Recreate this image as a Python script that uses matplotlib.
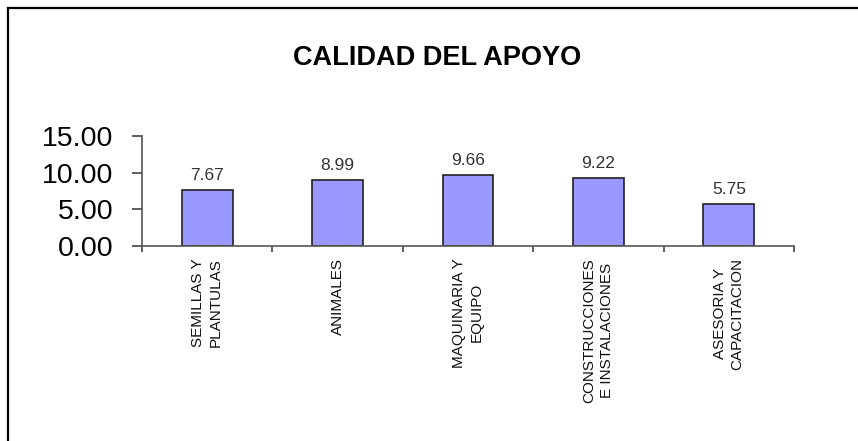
import matplotlib
matplotlib.use("Agg")
import matplotlib.pyplot as plt
from matplotlib.lines import Line2D

plt.rcParams['font.family'] = ['Liberation Sans', 'DejaVu Sans']

categorias = ["SEMILLAS Y\nPLANTULAS", "ANIMALES", "MAQUINARIA Y\nEQUIPO",
              "CONSTRUCCIONES\nE INSTALACIONES", "ASESORIA Y\nCAPACITACION"]
valores = [7.67, 8.99, 9.66, 9.22, 5.75]
yticks = [0, 5, 10, 15]

fig = plt.figure(figsize=(8.58, 4.41), dpi=100)
ax = fig.add_axes([142 / 858, 1 - 246 / 441, (794 - 142) / 858, (246 - 136) / 441])

x = list(range(len(valores)))
bars = ax.bar(x, valores, width=0.39, color='#9999ff', edgecolor='#222222', linewidth=1.2)

for xi, v in zip(x, valores):
    ax.annotate("%.2f" % v, (xi, v), xytext=(0, 5), textcoords='offset points',
                ha='center', va='bottom', fontsize=12.5, color='#333333')

ax.set_xlim(-0.5, len(valores) - 0.5)
ax.set_ylim(0, 15)
ax.set_yticks(yticks)
ax.set_yticklabels(["%.2f" % t for t in yticks], fontsize=20.5)

# ticks mayores en los limites de categoria, etiquetas en los centros
ax.set_xticks([i - 0.5 for i in range(len(valores) + 1)])
ax.set_xticklabels([])
ax.set_xticks(x, minor=True)
ax.set_xticklabels(categorias, minor=True, rotation=90, fontsize=11,
                   va='top', ha='center', multialignment='center',
                   linespacing=1.35, color='#111111')
ax.tick_params(axis='x', which='minor', length=0, pad=8.5)
ax.tick_params(axis='x', which='major', length=4, width=1.2, color='#444444', direction='out')
ax.tick_params(axis='y', length=7.5, width=1.2, color='#444444', pad=13)

for s in ['top', 'right']:
    ax.spines[s].set_visible(False)
for s in ['left', 'bottom']:
    ax.spines[s].set_color('#555555')
    ax.spines[s].set_linewidth(1.2)

fig.text(0.509, 1 - 58 / 441, "CALIDAD DEL APOYO", ha='center', va='center',
         fontsize=19.5, fontweight='bold')

# marco parcial (izquierda y arriba)
fig.add_artist(Line2D([7.5 / 858, 7.5 / 858], [0, 1 - 8 / 441], color='black', linewidth=1.6))
fig.add_artist(Line2D([7.5 / 858, 1], [1 - 8 / 441, 1 - 8 / 441], color='black', linewidth=1.6))

fig.savefig("out.png", dpi=100)
